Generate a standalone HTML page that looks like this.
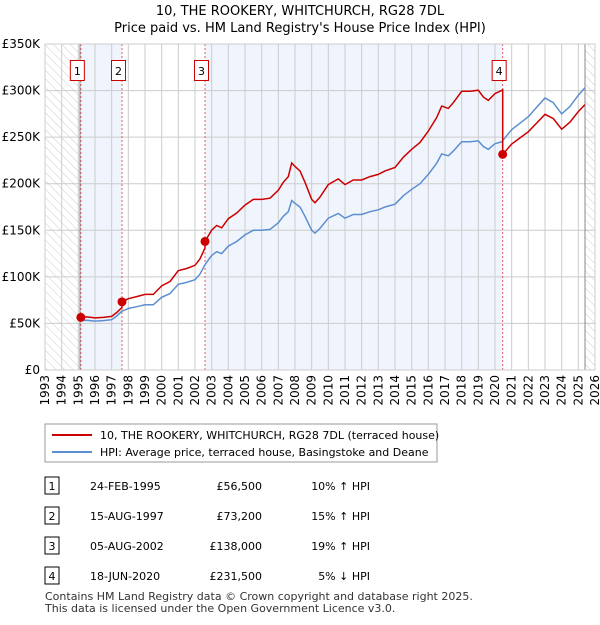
<!DOCTYPE html>
<html><head><meta charset="utf-8"><style>
body{margin:0;background:#fff;font-family:"Liberation Sans",sans-serif;}
svg text{font-family:"DejaVu Sans","Liberation Sans",sans-serif;}
</style></head><body>
<svg id="c" width="600" height="620">
<defs><pattern id="hatch" width="6" height="6" patternUnits="userSpaceOnUse" patternTransform="rotate(-45)"><line x1="0" y1="0" x2="0" y2="6" stroke="#ccc" stroke-width="1"/></pattern></defs>
<text x="300" y="15" text-anchor="middle" font-size="13">10, THE ROOKERY, WHITCHURCH, RG28 7DL</text>
<text x="300" y="32" text-anchor="middle" font-size="13">Price paid vs. HM Land Registry's House Price Index (HPI)</text>
<g id="plot"></g>
<rect x="45" y="424" width="392" height="38" fill="#fff" stroke="#999"/>
<line x1="52" y1="435" x2="92" y2="435" stroke="#cc0000" stroke-width="2"/>
<text x="100" y="439" font-size="11">10, THE ROOKERY, WHITCHURCH, RG28 7DL (terraced house)</text>
<line x1="52" y1="452" x2="92" y2="452" stroke="#5b8fd0" stroke-width="2"/>
<text x="100" y="456" font-size="11">HPI: Average price, terraced house, Basingstoke and Deane</text>
<g id="tbl"></g>
<text x="45" y="600" font-size="11" fill="#333">Contains HM Land Registry data © Crown copyright and database right 2025.</text>
<text x="45" y="612" font-size="11" fill="#333">This data is licensed under the Open Government Licence v3.0.</text>
</svg>
<script>
const hpiYears=[1995.1,1995.5,1996,1996.5,1997,1997.3,1997.6,1998,1998.5,1999,1999.5,2000,2000.5,2001,2001.5,2002,2002.3,2002.6,2003,2003.3,2003.6,2004,2004.5,2005,2005.5,2006,2006.5,2007,2007.3,2007.6,2007.8,2008,2008.3,2008.6,2009,2009.2,2009.5,2010,2010.6,2011,2011.5,2012,2012.5,2013,2013.4,2014,2014.5,2015,2015.5,2016,2016.5,2016.8,2017.2,2017.5,2018,2018.5,2019,2019.3,2019.6,2020,2020.4,2020.5,2021,2021.5,2022,2022.5,2023,2023.5,2024,2024.5,2025,2025.4];
const hpiVals=[53,53.5,52.5,53,54,58,63,66,68,70,70,78,82,92,94,97,103,113,123,127,125,133,138,145,150,150,151,158,165,170,182,179,175,165,150,147,152,163,168,163,167,167,170,172,175,178,187,194,200,210,222,232,230,235,245,245,246,240,237,243,245,247,258,265,272,282,292,287,275,283,295,303];
const saleYears=[1995.15,1997.62,2002.6,2020.46];
const salePrices=[56500,73200,138000,231500];
const saleLabels=["1","2","3","4"];
const yTicks=[0,50,100,150,200,250,300,350];
const yTickLabels=["£0","£50K","£100K","£150K","£200K","£250K","£300K","£350K"];
const tblDates=["24-FEB-1995","15-AUG-1997","05-AUG-2002","18-JUN-2020"];
const tblPrices=["£56,500","£73,200","£138,000","£231,500"];
const tblHpi=["10% ↑ HPI","15% ↑ HPI","19% ↑ HPI","5% ↓ HPI"];
const X0=45,X1=595,Y0=370,Y1=44;
const xs=y=>X0+(y-1993)/33*(X1-X0);
const ys=v=>Y0-v/350*(Y0-Y1);
const NS="http://www.w3.org/2000/svg";
const plot=document.getElementById('plot');
function mk(t,a,p){const e=document.createElementNS(NS,t);for(const k in a)e.setAttribute(k,a[k]);(p||plot).appendChild(e);return e;}
function hpiAt(y){for(let i=0;i<hpiYears.length-1;i++){if(y<=hpiYears[i+1]){const t=(y-hpiYears[i])/(hpiYears[i+1]-hpiYears[i]);return hpiVals[i]+t*(hpiVals[i+1]-hpiVals[i]);}}return hpiVals[hpiVals.length-1];}
let r;
r=mk('rect',{x:xs(1995.15),y:Y1,width:xs(1997.62)-xs(1995.15),height:Y0-Y1,fill:'#f0f4fc'});
r=mk('rect',{x:xs(2002.6),y:Y1,width:xs(2020.46)-xs(2002.6),height:Y0-Y1,fill:'#f0f4fc'});
r=mk('rect',{x:X0,y:Y1,width:xs(1995.1)-X0,height:Y0-Y1,fill:'url(#hatch)'});
r=mk('rect',{x:xs(2025.4),y:Y1,width:X1-xs(2025.4),height:Y0-Y1,fill:'url(#hatch)'});
for(let y=1993;y<=2026;y++){const g=mk('line',{x1:xs(y),x2:xs(y),y1:Y1,y2:Y0,stroke:'#ccc'});
const t=mk('text',{x:0,y:0,'font-size':12,'text-anchor':'end',transform:`translate(${xs(y)+4},${Y0+5}) rotate(-90)`});t.textContent=y;}
yTicks.forEach((v,i)=>{const g=mk('line',{x1:X0,x2:X1,y1:ys(v),y2:ys(v),stroke:'#ccc'});
const t=mk('text',{x:X0-5,y:ys(v)+4,'font-size':12,'text-anchor':'end'});t.textContent=yTickLabels[i];});
let l=mk('line',{x1:xs(1995.1),x2:xs(1995.1),y1:Y1,y2:Y0,stroke:'#888'});
l=mk('line',{x1:xs(2025.4),x2:xs(2025.4),y1:Y1,y2:Y0,stroke:'#888'});
saleYears.forEach((sy,i)=>{const v=mk('line',{x1:xs(sy),x2:xs(sy),y1:Y1,y2:Y0,stroke:'#e06060','stroke-dasharray':'2,2'});});
let p=mk('path',{d:hpiYears.map((y,i)=>(i?'L':'M')+xs(y).toFixed(1)+','+ys(hpiVals[i]).toFixed(1)).join(''),fill:'none',stroke:'#5b8fd0','stroke-width':1.5});

let d='';
for(let i=0;i<hpiYears.length;i++){
 const y=hpiYears[i];let k=-1;for(let j=0;j<saleYears.length;j++)if(saleYears[j]<=y+0.06)k=j;
 if(k<0)k=0;
 const f=salePrices[k]/1000/hpiAt(saleYears[k]);
 d+=(d?'L':'M')+xs(y).toFixed(1)+','+ys(hpiVals[i]*f).toFixed(1);
 if(i<hpiYears.length-1){for(let j=0;j<saleYears.length;j++){if(saleYears[j]>y+0.06&&saleYears[j]<=hpiYears[i+1]+0.06){const h=hpiAt(saleYears[j]);d+='L'+xs(saleYears[j]).toFixed(1)+','+ys(h*f).toFixed(1)+'L'+xs(saleYears[j]).toFixed(1)+','+ys(salePrices[j]/1000).toFixed(1);}}}
}
p=mk('path',{d:d,fill:'none',stroke:'#cc0000','stroke-width':1.5});

saleYears.forEach((sy,i)=>{const c=mk('circle',{cx:xs(sy),cy:ys(salePrices[i]/1000),r:4.5,fill:'#cc0000'});
const b=mk('rect',{x:xs(sy)-10.5,y:60.5,width:14,height:20,fill:'#fff',stroke:'#cc0000'});
const t=mk('text',{x:xs(sy)-3.5,y:75,'font-size':11,'text-anchor':'middle'});t.textContent=saleLabels[i];});
let fr=mk('rect',{x:X0,y:Y1,width:X1-X0,height:Y0-Y1,fill:'none',stroke:'#ccc'});
const tbl=document.getElementById('tbl');const rowY=[486,516,546,576];
rowY.forEach((ry,i)=>{
 const b=mk('rect',{x:45,y:ry-9,width:14,height:17,fill:'#fff',stroke:'#000'},tbl);
 let t=mk('text',{x:52,y:ry+4,'font-size':11,'text-anchor':'middle'},tbl);t.textContent=saleLabels[i];
 t=mk('text',{x:90,y:ry+4,'font-size':11},tbl);t.textContent=tblDates[i];
 t=mk('text',{x:262,y:ry+4,'font-size':11,'text-anchor':'end'},tbl);t.textContent=tblPrices[i];
 t=mk('text',{x:370,y:ry+4,'font-size':11,'text-anchor':'end'},tbl);t.textContent=tblHpi[i];
});
</script>
</body></html>
